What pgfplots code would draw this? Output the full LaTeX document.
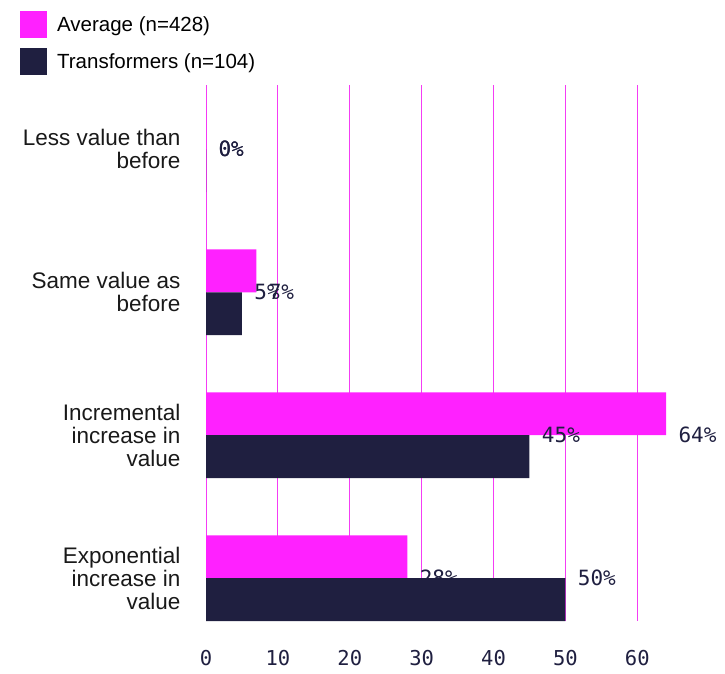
\documentclass[border=0pt]{standalone}
\usepackage{fontspec}
\usepackage{pgfplots}
\pgfplotsset{compat=1.18}
\setmainfont{Liberation Sans}
\newfontfamily\monofont{DejaVu Sans Mono}
\definecolor{gridmag}{HTML}{F43CF4}
\definecolor{mag}{HTML}{FF21FF}
\definecolor{navy}{HTML}{1F1F40}
\begin{document}
\begin{tikzpicture}[x=1pt,y=1pt]
\path (0,0) rectangle (725,673);
\begin{axis}[
  at={(206pt,52pt)}, anchor=south west,
  scale only axis, width=460pt, height=536pt,
  xmin=0, xmax=64, ymin=-0.45, ymax=3.3,
  y dir=reverse,
  axis line style={draw=none},
  xtick={0,10,...,60}, ytick={0,1,2,3},
  yticklabels={{Less value than\\before},{Same value as\\before},{Incremental\\increase in\\value},{Exponential\\increase in\\value}},
  major tick length=0pt,
  tick style={draw=none},
  xmajorgrids=false, ymajorgrids=false,
  unbounded coords=jump,
  /pgf/number format/assume math mode=true,
  xticklabel style={font=\monofont\fontsize{20.5}{22}\selectfont, color=navy, yshift=-26pt},
  yticklabel style={font=\fontsize{22.5}{23}\selectfont, align=right, xshift=-22pt, color=black!90},
  legend image code/.code={\fill[#1] (0pt,-13.5pt) rectangle (27pt,13.5pt);},
  legend style={at={(axis description cs:-0.404,1.138)}, anchor=north west, draw=none, fill=none,
    font=\fontsize{20.5}{22}\selectfont, row sep=10pt, inner sep=0pt, outer sep=0pt,
    nodes={inner sep=0pt, anchor=west}, column sep=10pt},
  legend cell align=left,
]
% vertical grid lines at the x ticks
\addplot[draw=gridmag, line width=0.9pt, sharp plot, mark=none, forget plot] coordinates {
  (0,-0.45) (0,3.3) (nan,nan)
  (10,-0.45) (10,3.3) (nan,nan)
  (20,-0.45) (20,3.3) (nan,nan)
  (30,-0.45) (30,3.3) (nan,nan)
  (40,-0.45) (40,3.3) (nan,nan)
  (50,-0.45) (50,3.3) (nan,nan)
  (60,-0.45) (60,3.3)
};
\addplot[xbar, bar width=0.3, fill=mag, draw=none, bar shift=-0.15,
  point meta=x, nodes near coords={\pgfmathprintnumber{\pgfplotspointmeta}\%},
  every node near coord/.append style={font=\monofont\fontsize{21}{22}\selectfont, color=navy, anchor=west, xshift=9pt}]
  coordinates {(0,0) (7,1) (64,2) (28,3)};
\addplot[xbar, bar width=0.3, fill=navy, draw=none, bar shift=0.15,
  point meta=x, nodes near coords={\pgfmathprintnumber{\pgfplotspointmeta}\%},
  every node near coord/.append style={font=\monofont\fontsize{21}{22}\selectfont, color=navy, anchor=west, xshift=9pt}]
  coordinates {(0,0) (5,1) (45,2) (50,3)};
\legend{Average (n=428), Transformers (n=104)}
\end{axis}
\end{tikzpicture}
\end{document}
